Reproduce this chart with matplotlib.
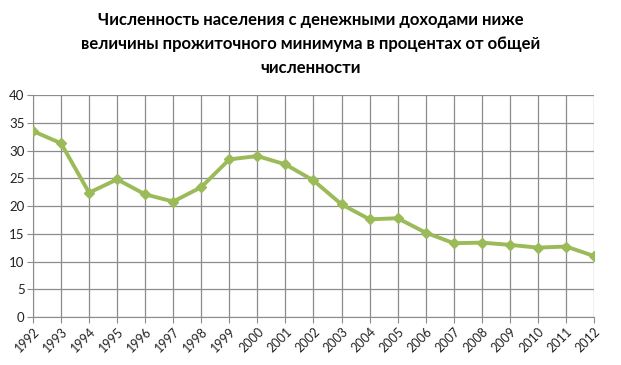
import matplotlib
matplotlib.use("Agg")
import matplotlib.pyplot as plt

plt.rcParams["font.family"] = ["Lato", "Noto Sans", "DejaVu Sans"]

years = list(range(1992, 2013))
share = [33.5, 31.3, 22.4, 24.8, 22.1, 20.8, 23.4, 28.4, 29.0, 27.5, 24.6,
         20.3, 17.6, 17.8, 15.2, 13.3, 13.4, 13.0, 12.5, 12.7, 11.0]
yticks = list(range(0, 45, 5))
title = ("Численность населения с денежными доходами ниже\n"
         "величины прожиточного минимума в процентах от общей\n"
         "численности")

fig = plt.figure(figsize=(6.21, 3.65), dpi=100)
ax = fig.add_axes([0.0531, 0.1315, 0.9034, 0.6082])
ax.plot(years, share, color="#9BBB59", lw=2.8, marker="D", ms=5.5,
        markeredgecolor="#9BBB59", zorder=3)
ax.set_xlim(1992, 2012)
ax.set_ylim(0, 40)
ax.set_xticks(years)
ax.set_xticklabels([str(y) for y in years], rotation=45, ha="right",
                   rotation_mode="anchor", fontsize=9)
ax.set_yticks(yticks)
ax.set_yticklabels([str(v) for v in yticks], fontsize=9.5)
ax.grid(True, color="#8c8c8c", lw=0.9)
for s in ["top", "right"]:
    ax.spines[s].set_visible(False)
for s in ["left", "bottom"]:
    ax.spines[s].set_color("#8c8c8c")
ax.tick_params(axis="both", color="#8c8c8c", labelcolor="#222222",
               length=4, pad=2)
ax.set_axisbelow(True)
fig.text(0.5, 0.968, title, ha="center", va="top", fontsize=12,
         fontweight="bold", color="black", linespacing=1.62)
fig.savefig("out.png", dpi=100)
